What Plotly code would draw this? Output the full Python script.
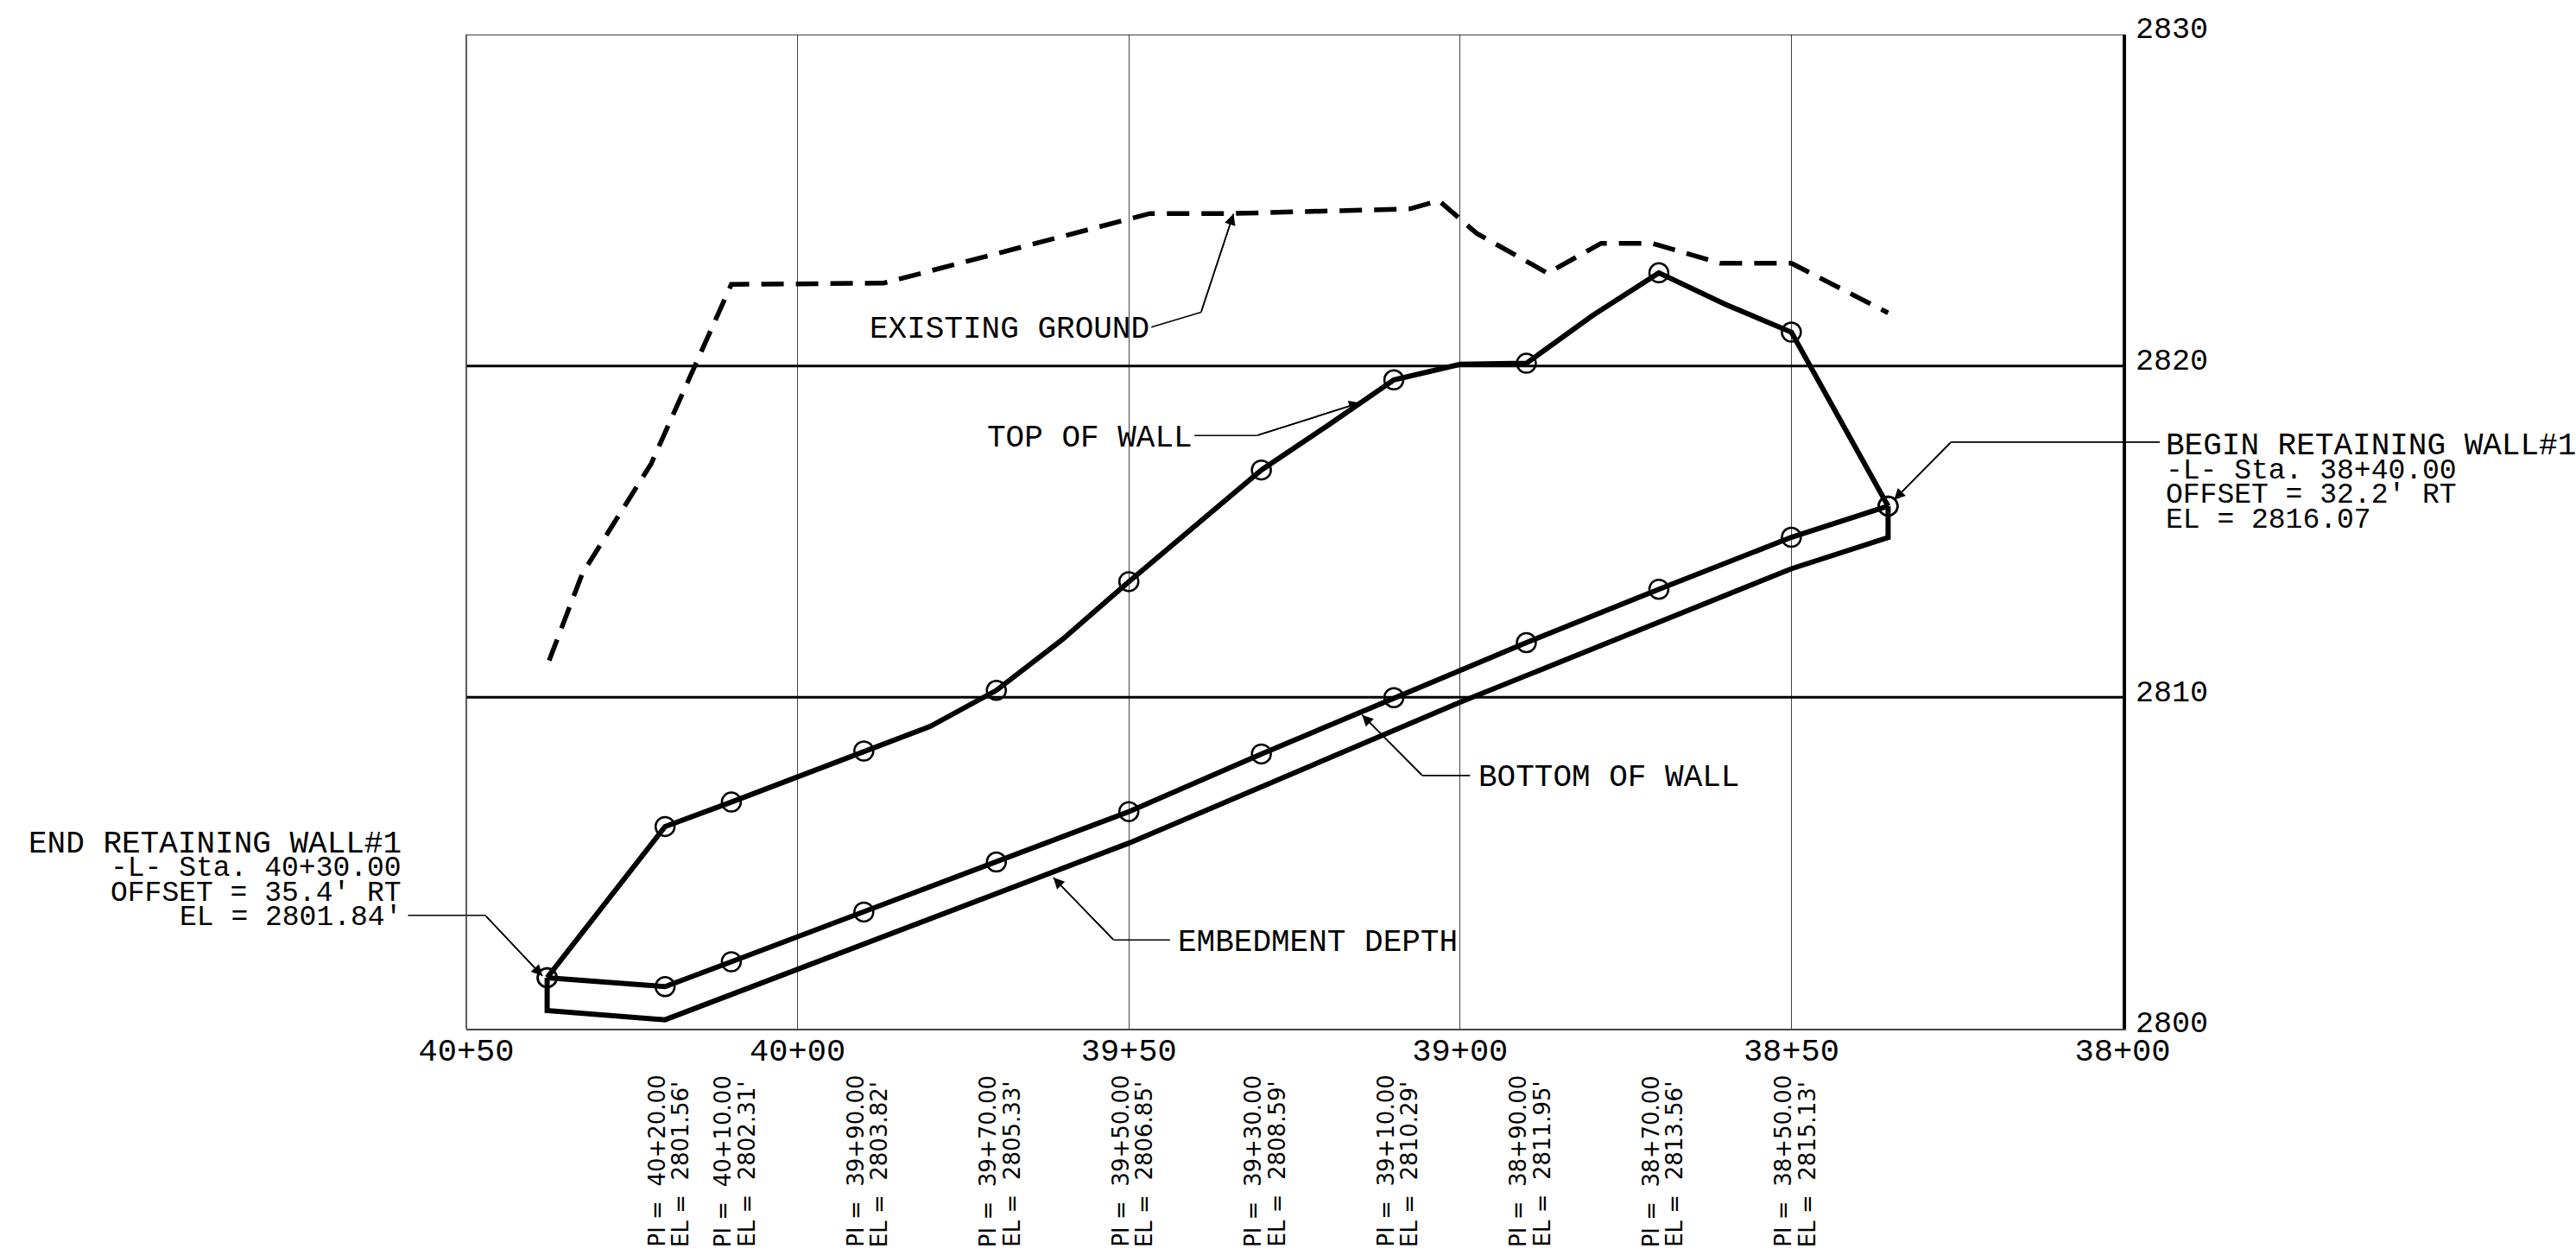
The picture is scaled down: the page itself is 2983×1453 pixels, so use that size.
import plotly.graph_objects as go

# ---- axes ----
x_ticks = [4050, 4000, 3950, 3900, 3850, 3800]
x_labels = ["40+50", "40+00", "39+50", "39+00", "38+50", "38+00"]
y_ticks = [2800, 2810, 2820, 2830]

# ---- series ----
top_st = [4037.8, 4020, 4010, 3990, 3980, 3970, 3960, 3950, 3940, 3930, 3920, 3910, 3900, 3890, 3880, 3870, 3860, 3850, 3835.4]
top_el = [2801.54, 2806.10, 2806.84, 2808.38, 2809.12, 2810.21, 2811.75, 2813.49, 2815.17, 2816.86, 2818.20, 2819.58, 2820.05, 2820.08, 2821.52, 2822.81, 2821.86, 2821.02, 2815.77]
top_mark_st = [4037.8, 4020, 4010, 3990, 3970, 3950, 3930, 3910, 3890, 3870, 3850, 3835.4]
top_mark_el = [2801.54, 2806.10, 2806.84, 2808.38, 2810.21, 2813.49, 2816.86, 2819.58, 2820.08, 2822.81, 2821.02, 2815.77]

bot_st = [4037.8, 4020, 4010, 3990, 3970, 3950, 3930, 3910, 3890, 3870, 3850, 3835.4]
bot_el = [2801.54, 2801.27, 2802.02, 2803.52, 2805.03, 2806.55, 2808.29, 2809.99, 2811.65, 2813.26, 2814.83, 2815.77]

emb_st = [3835.4, 3835.4, 3850, 3900, 3950, 4020, 4037.8, 4037.8]
emb_el = [2815.77, 2814.82, 2813.88, 2809.85, 2805.60, 2800.27, 2800.55, 2801.54]

gnd_st = [4037.5, 4032.5, 4022.1, 4010, 3987, 3946.8, 3934.4, 3907.6, 3903.2, 3897.5, 3886.8, 3878.7, 3871, 3860.8, 3850, 3835.4]
gnd_el = [2811.11, 2813.73, 2817.05, 2822.46, 2822.5, 2824.6, 2824.6, 2824.74, 2824.99, 2824.0, 2822.8, 2823.7, 2823.7, 2823.1, 2823.1, 2821.6]

# ---- PI labels ----
pi_st = [4020, 4010, 3990, 3970, 3950, 3930, 3910, 3890, 3870, 3850]
pi_names = ["40+20.00", "40+10.00", "39+90.00", "39+70.00", "39+50.00", "39+30.00", "39+10.00", "38+90.00", "38+70.00", "38+50.00"]
pi_elevs = ["2801.56'", "2802.31'", "2803.82'", "2805.33'", "2806.85'", "2808.59'", "2810.29'", "2811.95'", "2813.56'", "2815.13'"]

# ---- notes ----
end_note = ["END RETAINING WALL#1", "-L- Sta. 40+30.00", "OFFSET = 35.4' RT", "EL = 2801.84'"]
begin_note = ["BEGIN RETAINING WALL#1", "-L- Sta. 38+40.00", "OFFSET = 32.2' RT", "EL = 2816.07"]
note_y_end = [2805.65, 2804.91, 2804.16, 2803.42]
note_y_begin = [2817.65, 2816.91, 2816.16, 2815.42]
note_sizes = [36, 33, 33, 33]

leaders = [
    ([4058.8, 4047.15, 4038.5], [2803.42, 2803.42, 2801.59]),
    ([3794.4, 3825.9, 3834.5], [2817.7, 2817.7, 2815.96]),
    ([3946.6, 3939.1, 3934.2], [2821.17, 2821.62, 2824.59]),
    ([3940.1, 3930.7, 3915.1], [2817.9, 2817.9, 2818.89]),
    ([3898.5, 3905.7, 3914.8], [2807.64, 2807.64, 2809.47]),
    ([3943.8, 3952.3, 3961.4], [2802.68, 2802.68, 2804.56]),
]

W, H = 2983, 1453
L, R, T, B = 540, 2458, 39.5, 1191
CAD = "Liberation Mono"
X0, X1 = 4050, 3800
Y0, Y1 = 2800, 2830


def xp(s):
    return (X0 - s) / (X0 - X1)


def yp(e):
    return (e - Y0) / (Y1 - Y0)


fig = go.Figure()

fig.add_trace(go.Scatter(x=gnd_st, y=gnd_el, mode="lines", name="EXISTING GROUND",
                         line=dict(color="black", width=5.5, dash="26px,14px")))
fig.add_trace(go.Scatter(x=top_st, y=top_el, mode="lines", name="TOP OF WALL",
                         line=dict(color="black", width=6)))
fig.add_trace(go.Scatter(x=bot_st, y=bot_el, mode="lines", name="BOTTOM OF WALL",
                         line=dict(color="black", width=6)))
fig.add_trace(go.Scatter(x=emb_st, y=emb_el, mode="lines", name="EMBEDMENT DEPTH",
                         line=dict(color="black", width=6)))
for xs, ys in ((top_mark_st, top_mark_el), (bot_st, bot_el)):
    fig.add_trace(go.Scatter(x=xs, y=ys, mode="markers", cliponaxis=False, hoverinfo="skip",
                             marker=dict(symbol="circle-open", size=22, color="black", line=dict(width=2.5, color="black"))))

ann = []
shapes = []
for xs, ys in leaders:
    for i in range(2):
        shapes.append(dict(type="line", xref="paper", yref="paper", x0=xp(xs[i]), x1=xp(xs[i + 1]),
                           y0=yp(ys[i]), y1=yp(ys[i + 1]), line=dict(color="black", width=1.6)))
    ann.append(dict(x=xs[2], y=ys[2], ax=xs[1], ay=ys[1], xref="x", yref="y", axref="x", ayref="y", text="",
                    showarrow=True, arrowhead=2, arrowsize=1.6, arrowwidth=1.6, arrowcolor="black"))


def cad(x, y, text, anchor, xref="x", size=36):
    ann.append(dict(x=x, y=y, xref=xref, yref="y", yshift=-3, text=text, showarrow=False, xanchor=anchor, yanchor="middle",
                    font=dict(family=CAD, size=size, color="black")))


cad(3946.6, 2821.17, "EXISTING GROUND", "right")
cad(3940.1, 2817.9, "TOP OF WALL", "right")
cad(3897.5, 2807.64, "BOTTOM OF WALL", "left")
cad(3942.8, 2802.68, "EMBEDMENT DEPTH", "left")
for t, y, z in zip(end_note, note_y_end, note_sizes):
    cad(xp(4059.5), y, t, "right", xref="paper", size=z)
for t, y, z in zip(begin_note, note_y_begin, note_sizes):
    cad(xp(3793.7), y, t, "left", xref="paper", size=z)

PAPER_BOTTOM = (B - 1446) / (B - T)
for s, n, e in zip(pi_st, pi_names, pi_elevs):
    for text, shift in ((f"PI\u00a0=\u00a0\u00a0{n}", -9), (f"EL\u00a0=\u00a0\u00a0{e}", 18)):
        ann.append(dict(x=s, y=PAPER_BOTTOM, xref="x", yref="paper", xshift=shift, text=text, textangle=-90,
                        showarrow=False, xanchor="center", yanchor="bottom",
                        font=dict(family="DejaVu Sans", size=26, color="black")))

for y, w in ((2810, 3), (2820, 3), (2830, 1.6)):
    shapes.append(dict(type="line", xref="paper", yref="y", x0=0, x1=1, y0=y, y1=y, line=dict(color="black", width=w)))
shapes.append(dict(type="line", xref="paper", yref="paper", x0=0, x1=0, y0=0, y1=1, line=dict(color="#333333", width=1.6)))

fig.update_layout(
    width=W, height=H, autosize=False, showlegend=False,
    paper_bgcolor="white", plot_bgcolor="white",
    margin=dict(l=L, r=W - R, t=T, b=H - B, pad=0),
    annotations=ann, shapes=shapes,
    xaxis=dict(range=[X0, X1], tickmode="array", tickvals=x_ticks, ticktext=x_labels,
               showgrid=True, gridcolor="#444444", gridwidth=1.3, zeroline=False,
               showline=True, linecolor="#444444", linewidth=2, ticks="", ticklabelstandoff=-9,
               tickfont=dict(family=CAD, size=37, color="black")),
    yaxis=dict(range=[Y0, Y1], side="right", tickmode="array", tickvals=y_ticks,
               showgrid=False, zeroline=False, showline=True, linecolor="black", linewidth=4,
               ticks="", ticklabelstandoff=4, ticklabelshift=-8,
               tickfont=dict(family=CAD, size=35, color="black")),
)

fig.write_html("out.html", config={"displayModeBar": False}, post_script="document.body.style.margin='0';")
